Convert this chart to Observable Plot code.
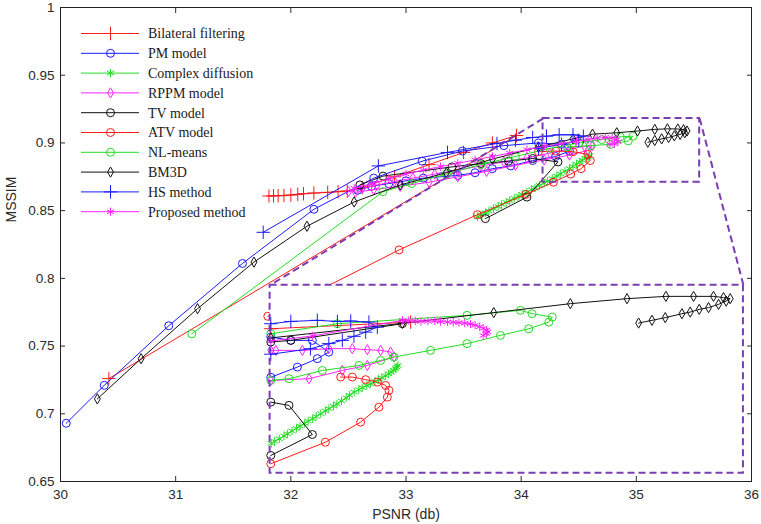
<!DOCTYPE html>
<html><head><meta charset="utf-8">
<script src="https://cdn.jsdelivr.net/npm/d3@7"></script>
<script src="https://cdn.jsdelivr.net/npm/@observablehq/plot@0.6"></script>
<style>
html,body{margin:0;padding:0;background:#fff;}
#wrap{position:relative;width:761px;height:524px;overflow:hidden;}
#wrap svg{display:block;}
#legend{position:absolute;left:0;top:0;}
</style></head>
<body><div id="wrap"></div>
<script>
// ---------- axes ----------
const xTicks = [30, 31, 32, 33, 34, 35, 36];
const yTicks = [0.65, 0.7, 0.75, 0.8, 0.85, 0.9, 0.95, 1];
const xLabel = "PSNR (db)";
const yLabel = "MSSIM";

// ---------- series ----------
const seriesNames = ["Bilateral filtering","PM model","Complex diffusion","RPPM model","TV model","ATV model","NL-means","BM3D","HS method","Proposed method"];
const seriesColors = ["#ff1a1a","#1a1aff","#22dd22","#ff22ff","#111111","#ff1a1a","#22dd22","#111111","#1a1aff","#ff22ff"];
const seriesSymbols = ["plus","circle","asterisk","diamond","circle","circle","circle","diamond","plus","asterisk"];

// main-axes values [PSNR, MSSIM]
const bilateralMain = [[30.42,0.726],[33.96,0.9055],[33.75,0.900],[33.50,0.893],[33.20,0.884],[32.90,0.875],[32.62,0.867],[32.49,0.8645],[32.41,0.864],[32.32,0.8635],[32.20,0.863],[32.11,0.8625],[32.06,0.862],[32.00,0.8615],[31.94,0.8612],[31.89,0.861],[31.85,0.861],[31.81,0.8608]];
const pmMain = [[30.05,0.693],[30.38,0.721],[30.94,0.765],[31.58,0.811],[32.20,0.851],[32.72,0.874],[33.14,0.8865],[33.49,0.894],[33.85,0.898],[34.15,0.900],[34.35,0.899],[34.42,0.894],[34.30,0.890],[34.10,0.887],[33.91,0.883],[33.75,0.881],[33.60,0.878],[33.45,0.876],[33.30,0.875],[33.15,0.874],[33.00,0.872],[32.85,0.870],[32.70,0.868],[32.58,0.865]];
const complexMain = [[33.62,0.8455],[33.65,0.8467],[33.69,0.8484],[33.72,0.8497],[33.76,0.8515],[33.80,0.8530],[33.83,0.8546],[33.87,0.8561],[33.90,0.8574],[33.94,0.8591],[33.98,0.8607],[34.01,0.8620],[34.05,0.8638],[34.09,0.8655],[34.12,0.8668],[34.16,0.8686],[34.20,0.8703],[34.23,0.8718],[34.27,0.8737],[34.31,0.8755],[34.34,0.8772],[34.38,0.8791],[34.42,0.8810],[34.45,0.8826],[34.48,0.8843],[34.51,0.8858],[34.53,0.8872],[34.56,0.8886],[34.58,0.8898],[34.59,0.8906]];
const rppmMain = [[32.50,0.864],[32.62,0.8665],[32.75,0.869],[32.90,0.8715],[33.06,0.874],[33.25,0.877],[33.45,0.880],[33.65,0.883],[33.85,0.886],[34.05,0.889],[34.25,0.8925],[34.42,0.8955],[34.55,0.8975],[34.62,0.898],[34.58,0.8945],[34.42,0.891],[34.20,0.8875],[33.95,0.8835],[33.70,0.879],[33.45,0.875],[33.20,0.871],[32.95,0.868],[32.72,0.8655],[32.56,0.8635]];
const tvMain = [[32.60,0.869],[32.80,0.8755],[33.40,0.8823],[33.65,0.8848],[33.89,0.8865],[34.10,0.8885],[34.32,0.886],[34.05,0.860],[33.69,0.8441]];
const atvMain = [[31.80,0.772],[32.94,0.821],[33.62,0.847],[34.04,0.862],[34.28,0.871],[34.43,0.877],[34.52,0.881],[34.60,0.887],[34.58,0.8915],[34.45,0.8935],[34.30,0.894],[34.15,0.8935]];
const nlMain = [[31.14,0.759],[32.80,0.864],[33.05,0.870],[33.35,0.877],[33.65,0.884],[33.95,0.890],[34.25,0.896],[34.50,0.900],[34.70,0.9025],[34.86,0.9045],[34.97,0.905],[34.93,0.9015],[34.78,0.899],[34.60,0.898],[34.40,0.897]];
const bm3dMain = [[30.32,0.711],[30.70,0.7407],[31.19,0.7776],[31.68,0.812],[32.14,0.8385],[32.55,0.8564],[32.95,0.869],[33.35,0.878],[33.75,0.888],[34.15,0.897],[34.45,0.903],[34.62,0.9065],[34.83,0.9075],[35.01,0.9088],[35.16,0.9100],[35.27,0.9104],[35.36,0.9103],[35.41,0.9098],[35.44,0.9088],[35.42,0.9075],[35.38,0.9063],[35.33,0.9052],[35.28,0.9040],[35.22,0.9030],[35.16,0.9018],[35.10,0.9005]];
const hsMain = [[31.76,0.834],[32.76,0.883],[33.36,0.893],[33.79,0.8996],[33.95,0.902],[34.10,0.904],[34.22,0.905],[34.33,0.906],[34.45,0.906],[34.54,0.905],[34.50,0.902],[34.35,0.899],[34.15,0.896]];
const proposedMain = [[32.55,0.8665],[32.70,0.870],[32.85,0.8735],[33.00,0.877],[33.15,0.880],[33.30,0.8825],[33.45,0.885],[33.60,0.8875],[33.75,0.890],[33.90,0.8925],[34.05,0.895],[34.20,0.8975],[34.35,0.8995],[34.48,0.9012],[34.58,0.9025],[34.66,0.9035],[34.73,0.9040],[34.79,0.9037],[34.83,0.9025],[34.84,0.9008],[34.81,0.8995],[34.77,0.8990]];

// inset (magnified view) values as drawn on the main axes
const bilateralInset = [[31.826,0.7628],[33.04,0.7677]];
const pmInset = [[31.826,0.7270],[32.057,0.7345],[32.23,0.7407],[32.33,0.7455],[32.187,0.7542],[32.0,0.7542],[31.826,0.7567]];
const complexInset = [[31.83,0.6781],[31.86,0.6797],[31.90,0.6815],[31.94,0.6836],[31.97,0.6852],[32.01,0.6873],[32.05,0.6892],[32.08,0.6909],[32.12,0.6928],[32.15,0.6946],[32.19,0.6963],[32.22,0.6981],[32.26,0.7001],[32.30,0.7021],[32.33,0.7038],[32.37,0.7056],[32.40,0.7073],[32.44,0.7095],[32.48,0.7118],[32.51,0.7137],[32.55,0.7160],[32.59,0.7178],[32.62,0.7193],[32.66,0.7208],[32.69,0.7221],[32.73,0.7238],[32.76,0.7252],[32.79,0.7266],[32.82,0.7280],[32.85,0.7295],[32.87,0.7308],[32.89,0.7320],[32.91,0.7334],[32.92,0.7346],[32.93,0.7357]];
const rppmInset = [[31.826,0.7468],[31.87,0.7468],[32.10,0.7468],[32.33,0.7481],[32.534,0.7481],[32.664,0.7473],[32.78,0.7468],[32.866,0.7456],[32.895,0.7419],[32.664,0.7357],[32.447,0.7320],[32.158,0.7259],[31.826,0.7246]];
const tvInset = [[31.826,0.6692],[32.187,0.6847],[31.984,0.7062],[31.826,0.7086],[NaN,NaN],[31.826,0.7530],[32.0,0.7542],[32.968,0.7665]];
const atvInset = [[31.826,0.6631],[32.30,0.6790],[32.606,0.6938],[32.765,0.7049],[32.838,0.7123],[32.852,0.7173],[32.823,0.7209],[32.751,0.7234],[32.65,0.7252],[32.534,0.7271],[32.433,0.7271]];
const nlInset = [[31.826,0.7246],[31.984,0.7259],[32.274,0.7320],[32.592,0.7357],[32.78,0.7394],[32.895,0.7419],[33.213,0.7468],[33.53,0.7518],[33.82,0.7579],[34.066,0.7628],[34.24,0.7677],[34.27,0.7714],[34.095,0.7739],[33.994,0.7764],[33.53,0.7727],[32.404,0.7665],[31.826,0.7591]];
const bm3dInset = [[31.826,0.7560],[32.968,0.7668],[33.762,0.7747],[34.427,0.7813],[34.919,0.7850],[35.257,0.7867],[35.497,0.7867],[35.67,0.7867],[35.757,0.7858],[35.815,0.7850],[35.78,0.7832],[35.714,0.7808],[35.627,0.7784],[35.546,0.7771],[35.468,0.7751],[35.396,0.7739],[35.251,0.7710],[35.136,0.7690],[35.02,0.7670]];
const hsInset = [[31.826,0.7440],[32.17,0.7480],[32.33,0.7518],[32.447,0.7542],[32.548,0.7572],[32.65,0.7603],[32.751,0.7640],[32.678,0.7677],[32.52,0.7685],[32.404,0.7682],[32.23,0.7690],[32.0,0.7682],[31.826,0.7665]];
const proposedInset = [[31.826,0.7538],[32.187,0.7575],[32.97,0.7690],[33.02,0.7688],[33.08,0.7686],[33.13,0.7682],[33.19,0.7684],[33.25,0.7685],[33.30,0.7681],[33.36,0.7678],[33.41,0.7676],[33.46,0.7673],[33.51,0.7669],[33.56,0.7663],[33.60,0.7654],[33.64,0.7643],[33.67,0.7631],[33.70,0.7618],[33.71,0.7605],[33.70,0.7593],[33.67,0.7578]];

const mainSeries = [bilateralMain, pmMain, complexMain, rppmMain, tvMain, atvMain, nlMain, bm3dMain, hsMain, proposedMain];
const insetSeries = [bilateralInset, pmInset, complexInset, rppmInset, tvInset, atvInset, nlInset, bm3dInset, hsInset, proposedInset];

// zoom boxes: [x1, x2, y1, y2]
const zoomBox = [34.19, 35.55, 0.871, 0.918];
const insetBox = [31.82, 35.93, 0.656, 0.795];
const boxColor = "#7a3db4";

// ---------- build ----------
const symR = {circle: 4, plus: 4.4, asterisk: 3.9, diamond: 3.1};
function seriesMarks(list) {
  const marks = [];
  list.forEach((pts, i) => {
    const data = pts.map(([x, y]) => ({x, y}));
    marks.push(Plot.line(data, {x: "x", y: "y", stroke: seriesColors[i], strokeWidth: 1}));
    marks.push(Plot.dot(data, {x: "x", y: "y", symbol: seriesSymbols[i], r: symR[seriesSymbols[i]],
      stroke: seriesColors[i], fill: "none", strokeWidth: 1}));
  });
  return marks;
}
const zb = {x1: zoomBox[0], x2: zoomBox[1], y1: zoomBox[2], y2: zoomBox[3]};
const ib = {x1: insetBox[0], x2: insetBox[1], y1: insetBox[2], y2: insetBox[3]};
const connectors = [
  {x1: zb.x1, y1: zb.y2, x2: ib.x1, y2: ib.y2},
  {x1: zb.x2, y1: zb.y2, x2: ib.x2, y2: ib.y2}
];
const dash = {stroke: boxColor, strokeWidth: 2, strokeDasharray: "7,4"};

const chart = Plot.plot({
  width: 761, height: 524,
  marginLeft: 60, marginRight: 10, marginTop: 7, marginBottom: 43,
  x: {domain: [30, 36]},
  y: {domain: [0.65, 1]},
  style: {fontFamily: "'Liberation Sans', Arial, sans-serif", fontSize: "13.5px", color: "#2a2a2a", background: "#fff"},
  marks: [
    ...seriesMarks(mainSeries),
    Plot.rect([zb], {x1: "x1", x2: "x2", y1: "y1", y2: "y2", fill: "none", ...dash}),
    Plot.link(connectors, {x1: "x1", y1: "y1", x2: "x2", y2: "y2", ...dash}),
    Plot.rect([ib], {x1: "x1", x2: "x2", y1: "y1", y2: "y2", fill: "white"}),
    ...seriesMarks(insetSeries),
    Plot.rect([ib], {x1: "x1", x2: "x2", y1: "y1", y2: "y2", fill: "none", ...dash}),
    Plot.axisX({anchor: "bottom", ticks: xTicks, tickSize: 0, tickPadding: 8, label: null, tickFormat: d => String(d), fontSize: 13.5}),
    Plot.axisY({anchor: "left", ticks: yTicks, tickSize: 0, tickPadding: 6, label: null, tickFormat: d => String(d), fontSize: 13.5}),
    Plot.axisX({anchor: "bottom", ticks: xTicks, tickSize: -5, label: null, tickFormat: () => ""}),
    Plot.axisX({anchor: "top", ticks: xTicks, tickSize: -5, label: null, tickFormat: () => ""}),
    Plot.axisY({anchor: "left", ticks: yTicks, tickSize: -5, label: null, tickFormat: () => ""}),
    Plot.axisY({anchor: "right", ticks: yTicks, tickSize: -5, label: null, tickFormat: () => ""}),
    Plot.text([xLabel], {frameAnchor: "bottom", dy: 33, lineAnchor: "middle", fontSize: 14}),
    Plot.text([yLabel], {frameAnchor: "left", dx: -49, dy: -22, rotate: -90, lineAnchor: "middle", fontSize: 14}),
    Plot.frame({stroke: "#222", strokeWidth: 1})
  ]
});
const wrap = document.getElementById("wrap");
wrap.appendChild(chart);

// ---------- legend ----------
const symMap = {circle: d3.symbolCircle, plus: d3.symbolPlus, asterisk: d3.symbolAsterisk, diamond: d3.symbolDiamond};
const leg = d3.select(wrap).append("svg").attr("id", "legend").attr("width", 761).attr("height", 524);
const rowY0 = 33.5, rowDy = 19.8;
seriesNames.forEach((name, i) => {
  const g = leg.append("g").attr("transform", `translate(0,${rowY0 + i * rowDy})`);
  g.append("line").attr("x1", 81).attr("x2", 139).attr("y1", 0).attr("y2", 0)
    .attr("stroke", seriesColors[i]).attr("stroke-width", 1);
  const r = symR[seriesSymbols[i]];
  g.append("path").attr("transform", "translate(110.5,0)")
    .attr("d", d3.symbol(symMap[seriesSymbols[i]], Math.PI * r * r)())
    .attr("fill", "none").attr("stroke", seriesColors[i]).attr("stroke-width", 1);
  g.append("text").attr("x", 148).attr("y", 0).attr("dy", "0.35em")
    .attr("font-family", "'Liberation Serif', 'Times New Roman', serif").attr("font-size", 14)
    .attr("fill", "#1a1a1a").text(name);
});
</script>
</body></html>
